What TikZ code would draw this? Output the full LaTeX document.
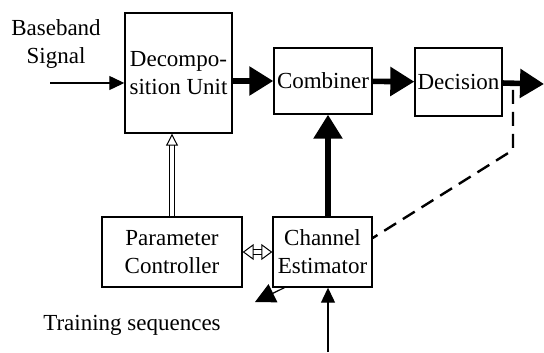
\documentclass[tikz,border=0pt]{standalone}
\usepackage{fontspec}
\setmainfont{Liberation Serif}
\usetikzlibrary{arrows.meta,positioning}

\begin{document}
\begin{tikzpicture}[x=0.5pt,y=-0.5pt,
  font=\fontsize{11.5}{14}\selectfont,
  block/.style={draw, line width=0.7pt, inner sep=1pt, align=center},
  thinarrow/.style={line width=0.6pt, -{Triangle[length=7.5pt,width=7pt]}},
  boldarrow/.style={line width=2.8pt, -{Triangle[length=12pt,width=14pt]}},
  hollowarrow/.style={double, double distance=2pt, line width=0.5pt}]
  \useasboundingbox (0,0) rectangle (544,352);

  % Blocks
  \node[block, minimum width=53.5pt, minimum height=60pt] (decomp) at (178.5,73) {Decompo-\\sition Unit};
  \node[block, minimum width=49pt, minimum height=33pt] (comb) at (323,81) {Combiner};
  \node[block, minimum width=43.5pt, minimum height=34pt] (decis) at (458.5,82) {Decision};
  \node[block, minimum width=70pt, minimum height=35pt] (param) at (172,252) {Parameter\\Controller};
  \node[block, minimum width=49.5pt, minimum height=35pt] (estim) at (322.5,252) {Channel\\Estimator};

  % Labels
  \node[align=center] (base) at (56,44) {Baseband\\Signal};
  \node (train) at (132,325) {Training sequences};

  % Free ends
  \coordinate (in) at (50,83);
  \coordinate (out) at (544,84);
  \coordinate (tap) at (513,90);
  \coordinate (bend) at (513,150);
  \coordinate (seq) at (328,352);
  \coordinate (tip) at (255,302);

  % Main path
  \draw[thinarrow] (in) -- (decomp.west |- in);
  \draw[boldarrow] (decomp.east |- comb) -- (comb);
  \draw[boldarrow] (comb) -- (decis);
  \draw[boldarrow] (decis) -- (out);

  % Estimation
  \draw[boldarrow] (estim.north -| seq) -- (comb.south -| seq);
  \draw[thinarrow] (seq) -- (estim.south -| seq);
  \draw[thinarrow, -{Triangle[length=10pt,width=10pt]}] ([xshift=6pt]estim.south west) -- (tip);
  \draw[line width=1.2pt, dash pattern=on 7pt off 4pt] (tap) -- (bend) -- ([yshift=7pt]estim.east);

  % Control
  \draw[hollowarrow, -{Triangle[open,length=6pt,width=6pt]}] (param.north) -- (param.north |- decomp.south);
  \draw[hollowarrow, {Triangle[open,length=5.5pt,width=8pt]}-{Triangle[open,length=5.5pt,width=8pt]}] (param.east) -- (estim.west);
\end{tikzpicture}
\end{document}
